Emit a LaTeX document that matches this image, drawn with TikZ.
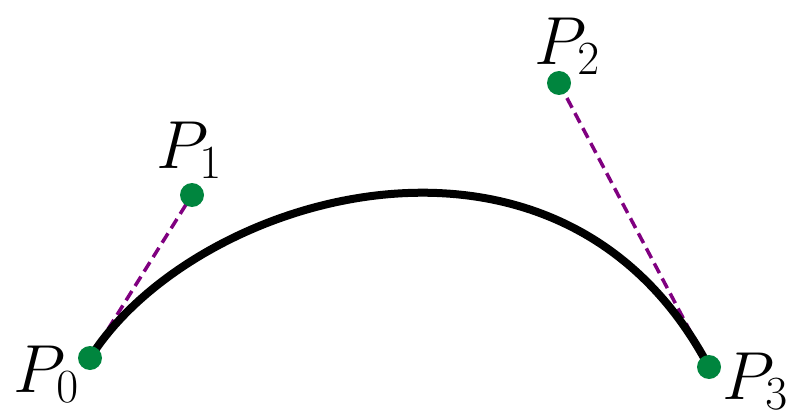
\documentclass[tikz,border=0pt]{standalone}
\usepackage{fix-cm}
\definecolor{dotgreen}{RGB}{0,133,62}
\definecolor{ctrlpurple}{RGB}{128,0,128}
\begin{document}
\begin{tikzpicture}[x=1pt,y=-1pt,
  dotstyle/.style={circle,fill=dotgreen,inner sep=0pt,minimum size=24pt},
  ctrlline/.style={ctrlpurple,line width=3.5pt,dash pattern=on 11pt off 6pt},
  curvestyle/.style={black,line width=8pt},
  lbl/.style={inner sep=0pt,font=\fontsize{68}{70}\selectfont}]
\useasboundingbox (0,0) rectangle (792,417);
\coordinate (p0) at (90,358);
\coordinate (p1) at (192,195);
\coordinate (p2) at (559,83);
\coordinate (p3) at (709,367);
\draw[ctrlline] (p0) -- (p1);
\draw[ctrlline] (p2) -- (p3);
\draw[curvestyle] (p0) .. controls (p1) and (p2) .. (p3);
\node[dotstyle] (d0) at (p0) {};
\node[dotstyle] (d1) at (p1) {};
\node[dotstyle] (d2) at (p2) {};
\node[dotstyle] (d3) at (p3) {};
\node[lbl] (l0) at (46,374) {$P_0$};
\node[lbl] (l1) at (189,150) {$P_1$};
\node[lbl] (l2) at (567,46) {$P_2$};
\node[lbl] (l3) at (755,381) {$P_3$};
\end{tikzpicture}
\end{document}
